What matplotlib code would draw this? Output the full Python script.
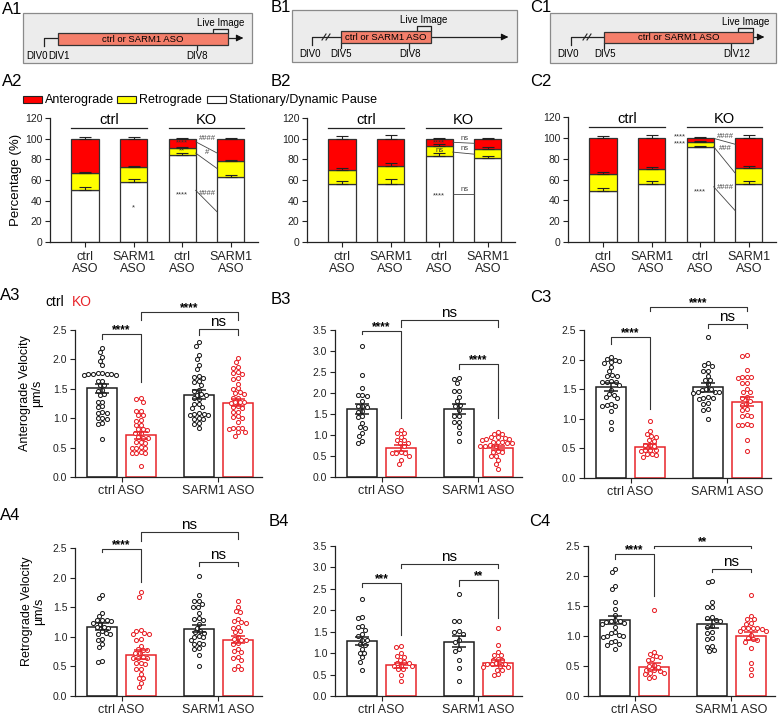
import numpy as np
import matplotlib.pyplot as plt
from matplotlib.patches import Rectangle

plt.rcParams['font.family'] = ['Liberation Sans', 'DejaVu Sans']

W, H = 778, 718
RED = '#e8242a'
BLK = '#1e1e1e'

# ---- stacked bars (A2, B2, C2): stationary / retrograde / anterograde (%) ----
stack_labels = ['ctrl\nASO', 'SARM1\nASO', 'ctrl\nASO', 'SARM1\nASO']
A2_stat = [50, 58, 84, 63]
A2_retro = [16.5, 15, 7, 15]
A2_ant = [33.5, 27, 9, 22]
A2_err = [[3.5, 3, 2, 2], [1.5, 1, 1, 1], [1.5, 2, 1, 1]]
B2_stat = [56, 56, 83, 81]
B2_retro = [14, 18, 10, 9]
B2_ant = [30, 26, 7, 10]
B2_err = [[3, 5, 3, 2], [2, 2, 2, 2], [3, 4, 1, 1]]
C2_stat = [49, 56, 91, 56]
C2_retro = [16, 14, 5, 15]
C2_ant = [35, 30, 4, 29]
C2_err = [[3, 3, 1, 3], [2, 2, 0.8, 2], [2, 3, 1, 3]]

# ---- velocities: order = ctrl/ctrl ASO, KO/ctrl ASO, ctrl/SARM1 ASO, KO/SARM1 ASO ----
vel_groups = ['ctrl ASO', 'SARM1 ASO']
A3_means = [1.51, 0.71, 1.40, 1.26]
A3_sem = [0.08, 0.06, 0.08, 0.06]
A3_pts = [
    [2.19, 2.12, 2.04, 1.97, 1.90, 1.77, 1.76, 1.75, 1.77, 1.74, 1.76, 1.73, 1.75, 1.64, 1.63, 1.56, 1.57,
     1.48, 1.47, 1.40, 1.41, 1.27, 1.28, 1.19, 1.20, 1.09, 1.10, 1.08, 1.0, 1.01, 0.99, 0.90, 0.91, 0.65],
    [1.34, 1.33, 1.27, 1.13, 1.12, 1.05, 1.06, 0.97, 0.96, 0.88, 0.89, 0.81, 0.82, 0.80, 0.74, 0.75, 0.67,
     0.68, 0.66, 0.59, 0.60, 0.58, 0.50, 0.51, 0.49, 0.50, 0.41, 0.42, 0.40, 0.41, 0.19],
    [2.29, 2.23, 2.07, 2.0, 1.9, 1.83, 1.70, 1.71, 1.69, 1.63, 1.62, 1.56, 1.47, 1.48, 1.40, 1.41, 1.39,
     1.33, 1.34, 1.24, 1.25, 1.19, 1.18, 1.07, 1.08, 1.06, 1.07, 1.05, 0.99, 1.00, 0.98, 0.90, 0.91, 0.83],
    [2.03, 1.96, 1.87, 1.86, 1.77, 1.78, 1.76, 1.67, 1.68, 1.59, 1.50, 1.51, 1.43, 1.44, 1.42, 1.34, 1.35,
     1.27, 1.28, 1.26, 1.27, 1.19, 1.20, 1.18, 1.10, 1.11, 1.02, 1.03, 1.01, 0.93, 0.83, 0.84, 0.82, 0.83,
     0.76, 0.77, 0.70],
]
B3_means = [1.62, 0.70, 1.62, 0.69]
B3_sem = [0.12, 0.07, 0.13, 0.05]
B3_pts = [
    [3.12, 2.42, 2.12, 1.96, 1.95, 1.94, 1.82, 1.68, 1.69, 1.67, 1.56, 1.55, 1.44, 1.45, 1.28, 1.17, 1.18,
     1.05, 0.97, 0.85, 0.82],
    [1.12, 1.05, 1.04, 0.95, 0.87, 0.88, 0.80, 0.81, 0.73, 0.58, 0.59, 0.57, 0.58, 0.50, 0.40, 0.30],
    [2.35, 2.34, 2.25, 2.05, 2.04, 1.90, 1.80, 1.70, 1.71, 1.60, 1.45, 1.46, 1.30, 1.31, 1.20, 1.05, 0.85],
    [1.08, 1.03, 1.02, 0.95, 0.96, 0.94, 0.90, 0.91, 0.89, 0.83, 0.84, 0.82, 0.83, 0.81, 0.75, 0.76, 0.74,
     0.75, 0.60, 0.61, 0.59, 0.50, 0.51, 0.40, 0.30, 0.18],
]
C3_means = [1.54, 0.53, 1.53, 1.29]
C3_sem = [0.07, 0.04, 0.07, 0.08]
C3_pts = [
    [2.05, 2.0, 2.01, 1.96, 1.95, 1.97, 1.87, 1.80, 1.73, 1.74, 1.72, 1.63, 1.62, 1.64, 1.63, 1.57, 1.49,
     1.41, 1.42, 1.35, 1.36, 1.24, 1.25, 1.22, 1.21, 1.13, 0.94, 0.82],
    [0.97, 0.80, 0.74, 0.70, 0.71, 0.63, 0.64, 0.55, 0.56, 0.54, 0.47, 0.48, 0.46, 0.47, 0.40, 0.41, 0.39,
     0.36],
    [2.38, 1.95, 1.90, 1.91, 1.80, 1.81, 1.72, 1.65, 1.66, 1.58, 1.50, 1.51, 1.49, 1.45, 1.46, 1.44, 1.45,
     1.35, 1.36, 1.34, 1.35, 1.25, 1.26, 1.15, 1.16, 1.00],
    [2.07, 2.06, 1.82, 1.70, 1.71, 1.69, 1.70, 1.60, 1.61, 1.50, 1.45, 1.46, 1.35, 1.36, 1.30, 1.25, 1.24,
     1.15, 1.16, 1.05, 1.06, 1.04, 0.90, 0.91, 0.89, 0.90, 0.65, 0.45],
]
A4_means = [1.17, 0.70, 1.14, 0.95]
A4_sem = [0.06, 0.07, 0.06, 0.06]
A4_pts = [
    [1.70, 1.65, 1.40, 1.35, 1.28, 1.29, 1.27, 1.28, 1.22, 1.23, 1.16, 1.17, 1.15, 1.10, 1.05, 1.06, 1.04,
     0.95, 0.96, 0.88, 0.82, 0.58, 0.59],
    [1.75, 1.68, 1.10, 1.11, 1.05, 1.06, 1.04, 0.95, 0.96, 0.85, 0.78, 0.79, 0.77, 0.72, 0.73, 0.65, 0.66,
     0.64, 0.65, 0.55, 0.56, 0.54, 0.45, 0.46, 0.38, 0.30, 0.31, 0.22, 0.15],
    [2.02, 1.70, 1.60, 1.61, 1.55, 1.50, 1.51, 1.40, 1.30, 1.31, 1.29, 1.22, 1.15, 1.08, 1.09, 1.07, 1.00,
     1.01, 0.99, 0.95, 0.88, 0.89, 0.87, 0.80, 0.81, 0.70, 0.50],
    [1.60, 1.50, 1.42, 1.43, 1.30, 1.25, 1.26, 1.24, 1.15, 1.16, 1.08, 1.09, 1.00, 0.95, 0.96, 0.94, 0.88,
     0.89, 0.80, 0.75, 0.76, 0.65, 0.66, 0.60, 0.50, 0.45, 0.46],
]
B4_means = [1.28, 0.72, 1.27, 0.77]
B4_sem = [0.09, 0.06, 0.13, 0.07]
B4_pts = [
    [2.27, 1.85, 1.83, 1.63, 1.60, 1.55, 1.45, 1.40, 1.30, 1.31, 1.20, 1.21, 1.10, 1.00, 1.01, 0.90, 0.80,
     0.60],
    [1.15, 1.17, 1.00, 0.92, 0.93, 0.85, 0.78, 0.79, 0.77, 0.70, 0.71, 0.69, 0.62, 0.63, 0.50, 0.35],
    [2.38, 1.75, 1.76, 1.50, 1.51, 1.45, 1.30, 1.25, 1.10, 1.05, 0.85, 0.65, 0.35],
    [1.58, 1.20, 1.02, 0.95, 0.96, 0.85, 0.86, 0.84, 0.75, 0.76, 0.74, 0.75, 0.68, 0.69, 0.67, 0.60, 0.61,
     0.50, 0.51],
]
C4_means = [1.27, 0.49, 1.20, 1.00]
C4_sem = [0.07, 0.06, 0.07, 0.06]
C4_pts = [
    [2.12, 2.06, 1.84, 1.78, 1.57, 1.45, 1.35, 1.25, 1.26, 1.24, 1.25, 1.20, 1.21, 1.15, 1.05, 1.06, 1.00,
     1.01, 0.99, 1.00, 0.90, 0.91, 0.85, 0.86, 0.78],
    [1.43, 0.73, 0.70, 0.65, 0.66, 0.60, 0.61, 0.50, 0.51, 0.49, 0.43, 0.44, 0.42, 0.38, 0.39, 0.37, 0.30,
     0.31],
    [1.90, 1.92, 1.57, 1.48, 1.49, 1.30, 1.31, 1.25, 1.26, 1.15, 1.16, 1.05, 1.06, 0.95, 0.96, 0.82, 0.83,
     0.75, 0.76],
    [1.68, 1.33, 1.28, 1.29, 1.20, 1.21, 1.13, 1.14, 1.12, 1.13, 1.14, 1.08, 1.09, 1.02, 0.95, 0.96, 0.94,
     0.90, 0.80, 0.55, 0.45, 0.35],
]

# significance brackets: (bar i, bar j, height, left leg end, right leg end, label)
A3_sig = [(0, 1, 2.43, 2.35, 1.62, '****'), (1, 3, 2.80, 2.67, 2.67, '****'), (2, 3, 2.52, 2.42, 2.42, 'ns')]
B3_sig = [(0, 1, 3.48, 3.40, 1.40, '****'), (1, 3, 3.73, 3.58, 3.58, 'ns'), (2, 3, 2.69, 2.58, 1.40, '****')]
C3_sig = [(0, 1, 2.39, 2.26, 1.16, '****'), (1, 3, 2.89, 2.82, 2.82, '****'), (2, 3, 2.60, 2.53, 2.53, 'ns')]
A4_sig = [(0, 1, 2.48, 2.43, 1.92, '****'), (1, 3, 2.77, 2.62, 2.65, 'ns'), (2, 3, 2.27, 2.19, 2.19, 'ns')]
B4_sig = [(0, 1, 2.64, 2.54, 1.42, '***'), (1, 3, 3.09, 2.98, 2.98, 'ns'), (2, 3, 2.70, 2.57, 1.81, '**')]
C4_sig = [(0, 1, 2.37, 2.28, 1.66, '****'), (1, 3, 2.50, 2.46, 2.46, '**'), (2, 3, 2.11, 2.06, 2.06, 'ns')]

fig = plt.figure(figsize=(W / 100, H / 100), dpi=100)

ov = fig.add_axes([0, 0, 1, 1])
ov.set_xlim(0, W)
ov.set_ylim(H, 0)
ov.axis('off')


def px_axes(l, t, r, b):
    ax = fig.add_axes([l / W, 1 - b / H, (r - l) / W, (b - t) / H])
    ax.set_facecolor('none')
    for s in ['top', 'right']:
        ax.spines[s].set_visible(False)
    for s in ['left', 'bottom']:
        ax.spines[s].set_linewidth(0.9)
        ax.spines[s].set_color('#222')
    ax.tick_params(direction='out', length=3.5, width=0.8, colors='#222', labelsize=7.5, pad=2)
    return ax


# ---------------- schematics ----------------
def schema(box, x0, x_start, rect, arrow_end, y_line, ticks, labels, live, slash):
    bx0, by0, bx1, by1 = box
    ov.add_patch(Rectangle((bx0, by0), bx1 - bx0, by1 - by0, fc='#ececec', ec='#8a8a8a', lw=0.9))
    rx0, ry0, rx1, ry1 = rect
    ov.plot([x0, x0, x_start], [y_line + 8, y_line, y_line], color='#222', lw=0.9)
    if slash:
        sx = (x0 + x_start) / 2
        for dx in (-2.5, 1.5):
            ov.plot([sx + dx - 2, sx + dx + 2], [y_line + 3, y_line - 3], color='#222', lw=0.8)
    ov.plot([rx1, arrow_end - 6], [y_line, y_line], color='#222', lw=0.9)
    ov.annotate('', xy=(arrow_end, y_line), xytext=(arrow_end - 8, y_line),
                arrowprops=dict(arrowstyle='-|>', color='#111', lw=0.8, mutation_scale=10))
    ov.add_patch(Rectangle((rx0, ry0), rx1 - rx0, ry1 - ry0, fc='#f47f6b', ec='#333', lw=0.9, zorder=3))
    ov.text((rx0 + rx1) / 2, (ry0 + ry1) / 2 + 0.5, 'ctrl or SARM1 ASO', ha='center', va='center',
            fontsize=6.8, zorder=4)
    for tx in ticks:
        ov.plot([tx, tx], [ry1, ry1 + 5], color='#222', lw=0.9)
    for tx, lab in labels:
        ov.text(tx, ry1 + 11, lab, ha='center', va='center', fontsize=7)
    lx0, lx1, ly = live
    ov.plot([lx0, lx0, lx1, lx1], [ry0, ly, ly, ry0], color='#222', lw=0.9)
    ov.text((lx0 + lx1) / 2, ly - 6, 'Live Image', ha='center', va='center', fontsize=7)


schema((23, 13, 252, 63), 44, 58, (58, 33, 228, 45), 246, 38, [197],
       [(37, 'DIV0'), (59, 'DIV1'), (197, 'DIV8')], (213, 228, 29), False)
schema((292, 10, 517, 62), 312, 341, (341, 31, 431, 43), 511, 37, [341, 409],
       [(310, 'DIV0'), (341, 'DIV5'), (410, 'DIV8')], (417, 431, 26), True)
schema((550, 13, 776, 63), 571, 604, (604, 32, 753, 43), 767, 37, [604, 731],
       [(568, 'DIV0'), (605, 'DIV5'), (737, 'DIV12')], (738, 753, 28), True)

for lab, x, y in [('A1', 2, 9), ('B1', 271, 8), ('C1', 530, 8), ('A2', 2, 82), ('B2', 271, 82),
                  ('C2', 530, 82), ('A3', 0, 296), ('B3', 271, 300), ('C3', 530, 298),
                  ('A4', 0, 516), ('B4', 269, 522), ('C4', 529, 521)]:
    ov.text(x, y, lab, fontsize=12, ha='left', va='center')

# legend
for x0, col, lab in [(23, '#ff0000', 'Anterograde'), (117, '#ffff00', 'Retrograde'),
                     (207, 'white', 'Stationary/Dynamic Pause')]:
    ov.add_patch(Rectangle((x0, 95.5), 19, 7, fc=col, ec='#222', lw=0.8))
    ov.text(x0 + 22, 99.5, lab, fontsize=9, va='center', ha='left')

ov.text(16, 180, 'Percentage (%)', rotation=90, ha='center', va='center', fontsize=9.5)
ov.text(31, 393, 'Anterograde Velocity\nµm/s', rotation=90, ha='center', va='center', fontsize=9,
        multialignment='center', linespacing=1.1)
ov.text(33, 611, 'Retrograde Velocity\nµm/s', rotation=90, ha='center', va='center', fontsize=9,
        multialignment='center', linespacing=1.1)
ov.text(45, 302, 'ctrl', fontsize=10, va='center', ha='left')
ov.text(72, 302, 'KO', fontsize=10, va='center', ha='left', color=RED)


# ---------------- stacked panels ----------------
BW = 0.556


def stacked(ax, stat, retro, ant, errs, inner, hashes, links):
    x = np.arange(4)
    b1 = np.array(stat, float)
    b2 = b1 + np.array(retro)
    b3 = b2 + np.array(ant)
    ax.bar(x, stat, BW, color='white', edgecolor='#333', lw=0.9, zorder=2)
    ax.bar(x, retro, BW, bottom=b1, color='#ffff00', edgecolor='#333', lw=0.9, zorder=2)
    ax.bar(x, ant, BW, bottom=b2, color='#ff0000', edgecolor='#333', lw=0.9, zorder=2)
    for tops, e in zip([b1, b2, b3], errs):
        ax.errorbar(x, tops, yerr=[np.zeros(4), e], fmt='none', ecolor='#222', elinewidth=0.8,
                    capsize=4.5, capthick=0.8, zorder=3)
    ax.set_xlim(-0.72, 3.56)
    ax.set_ylim(0, 120)
    ax.set_yticks(range(0, 121, 20))
    ax.set_xticks(x)
    ax.set_xticklabels(stack_labels, fontsize=9, linespacing=1.05)
    ax.tick_params(axis='x', pad=3)
    for (a, b), lab in [((0, 1), 'ctrl'), ((2, 3), 'KO')]:
        ax.plot([a - BW / 2, b + BW / 2], [110, 110], color='#222', lw=0.9, clip_on=False)
        ax.text((a + b) / 2, 111, lab, ha='center', va='bottom', fontsize=10.5)
    for xx, yy, t, ha in inner:
        ax.text(xx, yy, t, ha=ha, va='center', fontsize=5.5, color='#333', zorder=4)
    for yy, t in hashes:
        ax.text(2.52, yy, t, ha='center', va='bottom', fontsize=5.5, color='#444')
    for y0, y1 in links:
        ax.plot([2 + BW / 2, 3 - BW / 2], [y0, y1], color='#444', lw=0.6)


axA2 = px_axes(50, 118, 258, 242)
stacked(axA2, A2_stat, A2_retro, A2_ant, A2_err,
        [(2, 95.5, '****', 'center'), (2, 88, '**', 'center'), (2, 46, '****', 'center'),
         (1, 33, '*', 'center')],
        [(96.5, '####'), (83, '#'), (44, '####')],
        [(97, 86), (86, 71), (50, 29)])
axB2 = px_axes(307, 118, 515, 242)
stacked(axB2, B2_stat, B2_retro, B2_ant, B2_err,
        [(2, 96, '****', 'center'), (2, 89, 'ns', 'center'), (2, 45, '****', 'center')],
        [(97, 'ns'), (87, 'ns'), (47, 'ns')],
        [(96.5, 95.5), (87, 85), (46, 46)])
axC2 = px_axes(568, 117, 776, 242)
stacked(axC2, C2_stat, C2_retro, C2_ant, C2_err,
        [(2 - BW / 2 - 0.02, 101, '****', 'right'), (2 - BW / 2 - 0.02, 94, '****', 'right'),
         (2, 48, '****', 'center')],
        [(98, '####'), (86, '###'), (49, '####')],
        [(99.5, 93.8), (91.5, 66), (53, 30)])


# ---------------- velocity panels ----------------
XS = [-0.2, 0.2, 0.8, 1.2]
COLS = [BLK, RED, BLK, RED]
XL = (-0.48, 1.45)


def swarm(vals, sx, sy, d=4.6):
    vals = np.asarray(vals, float)
    order = np.argsort(-vals)
    placed = []
    out = np.zeros(len(vals))
    for k in order:
        y = vals[k] * sy
        cands = [0.0]
        for px, py in placed:
            dy = abs(py - y)
            if dy < d:
                dx = np.sqrt(d * d - dy * dy)
                cands += [px + dx, px - dx]
        cands.sort(key=lambda c: (abs(c), c))
        for c in cands:
            if all((c - px) ** 2 + (y - py) ** 2 >= d * d - 1e-6 for px, py in placed):
                break
        placed.append((c, y))
        out[k] = c / sx
    return out


def velocity(ax, pts, means, sems, ymax, sig):
    ax.set_xlim(*XL)
    ax.set_ylim(0, ymax)
    bb = ax.get_position()
    sx = bb.width * W / (XL[1] - XL[0])
    sy = bb.height * H / ymax
    ax.bar(XS, means, 0.31, color='white', edgecolor=COLS, lw=1.1, zorder=1)
    for x, v, c in zip(XS, pts, COLS):
        off = swarm(v, sx, sy)
        ax.scatter(x + off, v, s=8.5, facecolors='white', edgecolors=c, linewidths=0.75, zorder=2,
                   clip_on=False)
    for x, m, e, c in zip(XS, means, sems, COLS):
        ax.errorbar([x], [m], yerr=[e], fmt='none', ecolor=c, elinewidth=1.1, capsize=5, capthick=1.1,
                    zorder=3)
    ax.set_yticks(np.arange(0, ymax + 0.01, 0.5))
    ax.set_yticklabels([f'{t:.1f}' for t in np.arange(0, ymax + 0.01, 0.5)])
    ax.set_xticks([0, 1])
    ax.set_xticklabels(vel_groups, fontsize=9)
    ax.tick_params(axis='x', pad=2)
    for i, j, y, yl, yr, lab in sig:
        ax.plot([XS[i], XS[i], XS[j], XS[j]], [yl, y, y, yr], color='#333', lw=0.8, clip_on=False)
        star = lab != 'ns'
        ax.annotate(lab, ((XS[i] + XS[j]) / 2, y), xytext=(0, 0.6 if star else 2.2),
                    textcoords='offset points', ha='center', va='baseline',
                    fontsize=8.5 if star else 11, weight='bold' if star else 'normal',
                    annotation_clip=False)


velocity(px_axes(75, 330, 262, 477), A3_pts, A3_means, A3_sem, 2.5, A3_sig)
velocity(px_axes(335, 330, 522, 477), B3_pts, B3_means, B3_sem, 3.5, B3_sig)
velocity(px_axes(584, 330, 771, 478), C3_pts, C3_means, C3_sem, 2.5, C3_sig)
velocity(px_axes(75, 548, 262, 696), A4_pts, A4_means, A4_sem, 2.5, A4_sig)
velocity(px_axes(335, 546, 522, 696), B4_pts, B4_means, B4_sem, 3.5, B4_sig)
velocity(px_axes(588, 546, 775, 696), C4_pts, C4_means, C4_sem, 2.5, C4_sig)

plt.savefig('out.png', dpi=100)
